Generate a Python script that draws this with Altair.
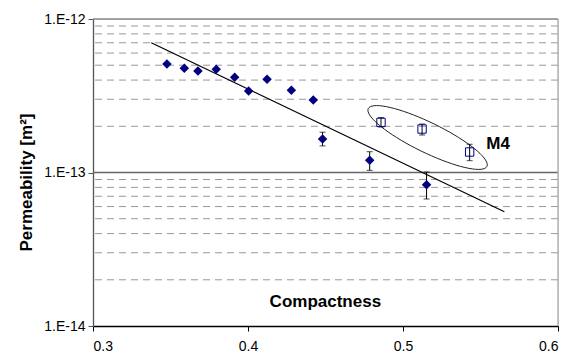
import math
import altair as alt
import pandas as pd

# ---- data ----
m_x = [0.3477, 0.3589, 0.3677, 0.3795, 0.3914, 0.4004, 0.4123, 0.428, 0.4421, 0.4481, 0.4785, 0.5152]
m_y = [5.09e-13, 4.77e-13, 4.58e-13, 4.70e-13, 4.17e-13, 3.40e-13, 4.05e-13, 3.43e-13, 2.97e-13, 1.65e-13, 1.20e-13, 8.33e-14]
m_lo = [None, None, None, None, None, None, None, None, None, 1.49e-13, 1.033e-13, 6.72e-14]
m_hi = [None, None, None, None, None, None, None, None, None, 1.83e-13, 1.366e-13, 1.008e-13]

m4_x = [0.4858, 0.5123, 0.543]
m4_y = [2.12e-13, 1.92e-13, 1.36e-13]
m4_lo = [1.98e-13, 1.755e-13, 1.194e-13]
m4_hi = [2.28e-13, 2.07e-13, 1.527e-13]

trend_x = [0.3376, 0.5654]
trend_y = [7.01e-13, 5.55e-14]

minor_grid = [2e-14, 3e-14, 4e-14, 5e-14, 6e-14, 7e-14, 8e-14, 9e-14,
              2e-13, 3e-13, 4e-13, 5e-13, 6e-13, 7e-13, 8e-13, 9e-13]

# annotation ellipse (pixel geometry within the plot area, converted to data)
W, H = 465, 307
ell_cx, ell_cy, ell_a, ell_b, ell_ang = 334.6, 118.5, 66, 15, 26

def px_to_x(px):
    return 0.3 + px / W * 0.3

def py_to_y(py):
    return 10 ** (-12 - 2 * py / H)

ell_rows = []
for i in range(73):
    t = 2 * math.pi * i / 72
    c, s = math.cos(math.radians(ell_ang)), math.sin(math.radians(ell_ang))
    ex = ell_a * math.cos(t)
    ey = ell_b * math.sin(t)
    px = ell_cx + ex * c - ey * s
    py = ell_cy + ex * s + ey * c
    ell_rows.append({"x": px_to_x(px), "y": py_to_y(py), "o": i})
ell_df = pd.DataFrame(ell_rows)

FONT = "Liberation Sans"
NAVY = "#000080"

xs = alt.Scale(domain=[0.3, 0.6], nice=False, zero=False)
ys = alt.Scale(type="log", domain=[1e-14, 1e-12], nice=False)

m_df = pd.DataFrame({"x": m_x, "y": m_y, "lo": m_lo, "hi": m_hi})
m_err = m_df.dropna()
m4_df = pd.DataFrame({"x": m4_x, "y": m4_y, "lo": m4_lo, "hi": m4_hi})
err_df = pd.concat([m_err, m4_df])
caps_df = pd.concat([err_df[["x", "lo"]].rename(columns={"lo": "v"}),
                     err_df[["x", "hi"]].rename(columns={"hi": "v"})])

grid = alt.Chart(pd.DataFrame({"y": minor_grid})).mark_rule(
    color="#999999", strokeWidth=1, strokeDash=[7, 5]
).encode(y=alt.Y("y:Q", scale=ys))

major = alt.Chart(pd.DataFrame({"y": [1e-13]})).mark_rule(
    color="#666666", strokeWidth=1.3
).encode(y=alt.Y("y:Q", scale=ys))

top = alt.Chart(pd.DataFrame({"y": [1e-12]})).mark_rule(
    color="#888888", strokeWidth=1.3
).encode(y=alt.Y("y:Q", scale=ys))

right = alt.Chart(pd.DataFrame({"x": [0.6]})).mark_rule(
    color="#aaaaaa", strokeWidth=1.3
).encode(x=alt.X("x:Q", scale=xs))

base = alt.Chart(pd.DataFrame({"x": [0.3], "y": [1e-14]})).mark_point(opacity=0).encode(
    x=alt.X("x:Q", scale=xs,
            axis=alt.Axis(values=[0.3, 0.4, 0.5, 0.6], format=".1f", title=None,
                          grid=False, domainColor="black", domainWidth=1.3,
                          tickColor="black", tickSize=5, labelPadding=8,
                          labelFont=FONT, labelFontSize=14, labelColor="black")),
    y=alt.Y("y:Q", scale=ys,
            axis=alt.Axis(values=[1e-14, 1e-13, 1e-12], grid=False,
                          labelExpr="datum.value < 5e-14 ? '1.E-14' : (datum.value < 5e-13 ? '1.E-13' : '1.E-12')",
                          title="Permeability [m²]", titleFont=FONT, titleFontSize=17,
                          titleFontWeight="bold", titleColor="black",
                          titleX=-67, titleY=163, titleAngle=270,
                          titleAlign="center", titleBaseline="middle",
                          domainColor="#555555", domainWidth=1.3,
                          tickColor="#555555", tickSize=5, labelPadding=3,
                          labelFont=FONT, labelFontSize=14, labelColor="black")),
)

trend = alt.Chart(pd.DataFrame({"x": trend_x, "y": trend_y})).mark_line(
    color="black", strokeWidth=1.2
).encode(x=alt.X("x:Q", scale=xs), y=alt.Y("y:Q", scale=ys))

ellipse = alt.Chart(ell_df).mark_line(color="#222222", strokeWidth=1).encode(
    x=alt.X("x:Q", scale=xs), y=alt.Y("y:Q", scale=ys), order="o:Q")

err = alt.Chart(err_df).mark_rule(color="black", strokeWidth=1).encode(
    x=alt.X("x:Q", scale=xs), y=alt.Y("lo:Q", scale=ys), y2="hi:Q")

caps = alt.Chart(caps_df).mark_tick(color="black", orient="horizontal", size=6, thickness=1).encode(
    x=alt.X("x:Q", scale=xs), y=alt.Y("v:Q", scale=ys))

diamonds = alt.Chart(m_df).mark_point(
    shape="diamond", filled=True, color=NAVY, size=90, opacity=1
).encode(x=alt.X("x:Q", scale=xs), y=alt.Y("y:Q", scale=ys))

squares = alt.Chart(m4_df).mark_point(
    shape="square", filled=False, color=NAVY, fill="white", fillOpacity=0,
    size=70, strokeWidth=1, opacity=1
).encode(x=alt.X("x:Q", scale=xs), y=alt.Y("y:Q", scale=ys))

m4_label = alt.Chart(pd.DataFrame({"x": [0.5537], "y": [1.535e-13], "t": ["M4"]})).mark_text(
    font=FONT, fontSize=17, fontWeight="bold", align="left", baseline="middle", color="black"
).encode(x=alt.X("x:Q", scale=xs), y=alt.Y("y:Q", scale=ys), text="t:N")

x_title = alt.Chart(pd.DataFrame({"x": [0.4499], "y": [1.434e-14], "t": ["Compactness"]})).mark_text(
    font=FONT, fontSize=17, fontWeight="bold", align="center", baseline="middle", color="black"
).encode(x=alt.X("x:Q", scale=xs), y=alt.Y("y:Q", scale=ys), text="t:N")

chart = alt.layer(
    grid, major, top, right, base, trend, ellipse, err, caps, squares, diamonds, m4_label, x_title
).properties(
    width=W, height=H,
    autosize=alt.AutoSizeParams(type="none"),
    padding={"left": 85, "top": 11, "right": 3, "bottom": 28},
).configure_view(stroke=None).configure(background="white")

chart.save("out.html", embed_options={"renderer": "svg", "actions": False})
